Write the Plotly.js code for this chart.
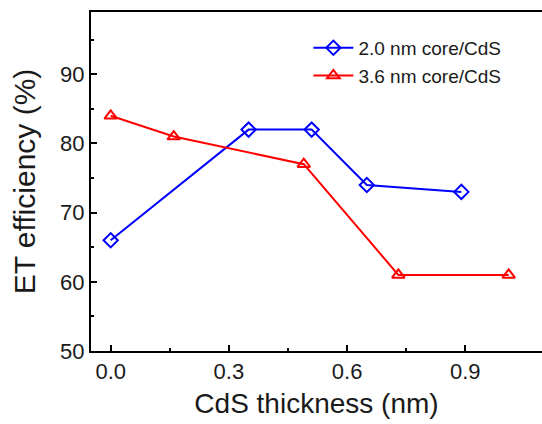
<!DOCTYPE html>
<html>
<head>
<meta charset="utf-8">
<script src="https://cdn.plot.ly/plotly-3.0.1.min.js"></script>
<style>html,body{margin:0;padding:0;background:#fff;}</style>
</head>
<body>
<div id="chart" style="width:542px;height:424px;"></div>
<script>
const thickness20 = [0, 0.35, 0.51, 0.65, 0.89];
const eff20 = [66, 82, 82, 74, 73];
const thickness36 = [0, 0.16, 0.49, 0.73, 1.01];
const eff36 = [84, 81, 77, 61, 61];
const name20 = '2.0 nm core/CdS';
const name36 = '3.6 nm core/CdS';

const traces = [
  {x: thickness20, y: eff20, name: name20, type: 'scatter', mode: 'lines+markers',
   line: {color: '#0000ff', width: 2},
   marker: {symbol: 'diamond-open', size: 11, color: '#0000ff', line: {width: 2, color: '#0000ff'}}},
  {x: thickness36, y: eff36, name: name36, type: 'scatter', mode: 'lines+markers',
   line: {color: '#ff0000', width: 2},
   marker: {symbol: 'triangle-up-open', size: 11, color: '#ff0000', line: {width: 2, color: '#ff0000'}}}
];

const layout = {
  width: 542, height: 424,
  margin: {l: 91, r: 0, t: 12, b: 73},
  paper_bgcolor: '#fff', plot_bgcolor: '#fff',
  font: {family: 'Liberation Sans, Arial, sans-serif', color: '#1a1a1a'},
  showlegend: true,
  legend: {x: 0.482, y: 0.95, xanchor: 'left', yanchor: 'top', bgcolor: 'rgba(0,0,0,0)',
           font: {size: 19, color: '#1a1a1a'}, tracegroupgap: 0, itemwidth: 40},
  xaxis: {
    range: [-0.05, 1.0946], tickvals: [0, 0.3, 0.6, 0.9], ticktext: ['0.0', '0.3', '0.6', '0.9'],
    ticks: 'inside', ticklen: 6, tickwidth: 2, tickcolor: '#000',
    minor: {tickvals: [0.15, 0.45, 0.75], ticks: 'inside', ticklen: 3, tickwidth: 2, tickcolor: '#000'},
    showline: true, linewidth: 2, linecolor: '#000', mirror: true,
    showgrid: false, zeroline: false,
    tickfont: {size: 22, color: '#1a1a1a'},
    title: {text: 'CdS thickness (nm)', font: {size: 28, color: '#1a1a1a'}, standoff: 10}
  },
  yaxis: {
    range: [50, 99], tickvals: [50, 60, 70, 80, 90],
    ticks: 'inside', ticklen: 6, tickwidth: 2, tickcolor: '#000',
    minor: {tickvals: [55, 65, 75, 85, 95], ticks: 'inside', ticklen: 3, tickwidth: 2, tickcolor: '#000'},
    showline: true, linewidth: 2, linecolor: '#000', mirror: false,
    showgrid: false, zeroline: false,
    tickfont: {size: 22, color: '#1a1a1a'},
    title: {text: 'ET efficiency (%)', font: {size: 30, color: '#1a1a1a'}, standoff: 16}
  }
};

Plotly.newPlot('chart', traces, layout, {displayModeBar: false, staticPlot: true});
</script>
</body>
</html>
